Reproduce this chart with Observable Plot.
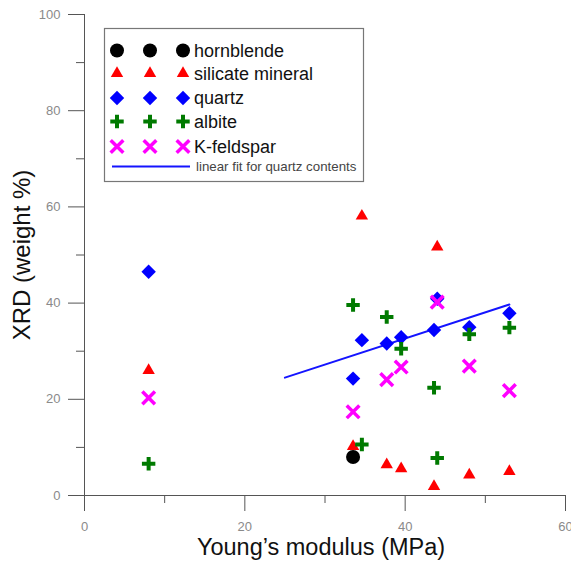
<!DOCTYPE html>
<html><head><meta charset="utf-8">
<script src="https://cdn.jsdelivr.net/npm/d3@7"></script>
<script src="https://cdn.jsdelivr.net/npm/@observablehq/plot@0.6"></script>
<style>body{margin:0;background:#fff} #chart{width:571px;height:566px}</style>
</head><body><div id="chart"></div>
<script>
// Young's modulus of each sample (MPa)
const modulus    = [8.0, 33.5, 34.6, 37.7, 39.5, 43.6, 44.0, 48.0, 53.0];
// XRD contents (weight %)
const hornblende = [null, 8.0, null, null, null, null, null, null, null];
const silicate   = [26.0, 10.2, 58.1, 6.4, 5.6, 1.9, 51.7, 4.3, 5.0];
const quartz     = [46.5, 24.3, 32.3, 31.6, 32.9, 34.4, 40.9, 35.0, 37.9];
const albite     = [6.6, 39.6, 10.6, 37.1, 30.5, 22.4, 7.8, 33.5, 34.9];
const kfeldspar  = [20.3, 17.4, null, 24.1, 26.7, null, 40.2, 26.9, 21.8];
// linear fit for quartz contents (end points)
const fitX = [25, 53];
const fitY = [24.5, 39.7];
// axis ticks
const xMajor = [0, 20, 40, 60];
const xMinor = [10, 30, 50];
const yMajor = [0, 20, 40, 60, 80, 100];
const yMinor = [10, 30, 50, 70, 90];
const fitLabel = "linear fit for quartz contents";

const series = [
  {name: "silicate mineral", values: silicate, symbol: "triangle", color: "#ff0000", r: 4.6, filled: true},
  {name: "hornblende", values: hornblende, symbol: "circle", color: "#000000", r: 7, filled: true},
  {name: "quartz", values: quartz, symbol: "diamond2", color: "#0000ff", r: 6.5, filled: true},
  {name: "albite", values: albite, symbol: "plus", color: "#007a00", r: 4.4, filled: false, sw: 4},
  {name: "K-feldspar", values: kfeldspar, symbol: "times", color: "#ff00ff", r: 5.8, filled: false, sw: 3.5}
];
const legendOrder = ["hornblende", "silicate mineral", "quartz", "albite", "K-feldspar"];

const fitData = fitX.map((x, i) => ({x, y: fitY[i]}));
const font = "Arial, 'Liberation Sans', sans-serif";

const dotMarks = series.map(s => {
  const data = [];
  s.values.forEach((v, i) => { if (v != null) data.push({x: modulus[i], y: v}); });
  return Plot.dot(data, {
    x: "x", y: "y", symbol: () => s.symbol, r: s.r,
    fill: s.filled ? s.color : "none",
    stroke: s.filled ? "none" : s.color,
    strokeWidth: s.sw || 1
  });
});

const plot = Plot.plot({
  width: 571, height: 566,
  marginTop: 14, marginBottom: 71, marginLeft: 84, marginRight: 6,
  style: {fontFamily: font, background: "#fff"},
  x: {domain: [0, 60], label: null},
  y: {domain: [0, 100], label: null},
  symbol: {type: "identity"},
  marks: [
    Plot.axisX({ticks: xMajor, tickSize: 16, text: null, stroke: "#555"}),
    Plot.axisX({ticks: xMinor, tickSize: 8, text: null, stroke: "#555"}),
    Plot.axisX({ticks: xMajor, tickSize: 0, tickPadding: 26, fontSize: 13, fill: "#8a8a8a", tickFormat: d => d}),
    Plot.axisY({ticks: yMajor, tickSize: 16, text: null, stroke: "#555"}),
    Plot.axisY({ticks: yMinor, tickSize: 8, text: null, stroke: "#555"}),
    Plot.axisY({ticks: yMajor, tickSize: 0, tickPadding: 24, fontSize: 13, fill: "#8a8a8a", tickFormat: d => d}),
    Plot.ruleX([0], {stroke: "#555"}),
    Plot.ruleY([0], {stroke: "#555"}),
    Plot.line(fitData, {x: "x", y: "y", stroke: "#1414ff", strokeWidth: 2}),
    ...dotMarks,
    Plot.text(["Young\u2019s modulus (MPa)"], {frameAnchor: "bottom", dy: 59, dx: -4, fontSize: 23.5, fill: "#111"}),
    Plot.text(["XRD (weight %)"], {frameAnchor: "left", textAnchor: "middle", dx: -62, rotate: -90, fontSize: 24, fill: "#111"})
  ]
});
document.getElementById("chart").appendChild(plot);

// legend box
const svg = d3.select(plot);
const lg = svg.append("g").attr("text-anchor", "start");
lg.append("rect").attr("x", 104.5).attr("y", 28.5).attr("width", 259).attr("height", 153)
  .attr("fill", "#fff").attr("stroke", "#777").attr("stroke-width", 1.2);
const symMap = {circle: d3.symbolCircle, triangle: d3.symbolTriangle, diamond2: d3.symbolDiamond2, plus: d3.symbolPlus, times: d3.symbolTimes};
const rowY = [50.5, 73.5, 98, 121.5, 146.5];
legendOrder.forEach((name, k) => {
  const s = series.find(d => d.name === name);
  const path = d3.symbol(symMap[s.symbol], Math.PI * s.r * s.r)();
  [117, 150, 183].forEach(x => {
    lg.append("path").attr("d", path).attr("transform", `translate(${x},${rowY[k]})`)
      .attr("fill", s.filled ? s.color : "none").attr("stroke", s.filled ? "none" : s.color)
      .attr("stroke-width", s.sw || 1);
  });
  lg.append("text").attr("x", 194).attr("y", rowY[k]).attr("dy", "0.35em")
    .attr("font-size", 18).attr("font-family", font).attr("fill", "#111").text(name);
});
lg.append("line").attr("x1", 112).attr("x2", 190).attr("y1", 166.5).attr("y2", 166.5)
  .attr("stroke", "#1414ff").attr("stroke-width", 2);
lg.append("text").attr("x", 196).attr("y", 166.5).attr("dy", "0.35em")
  .attr("font-size", 13.3).attr("font-family", font).attr("fill", "#444").text(fitLabel);
</script>
</body></html>
